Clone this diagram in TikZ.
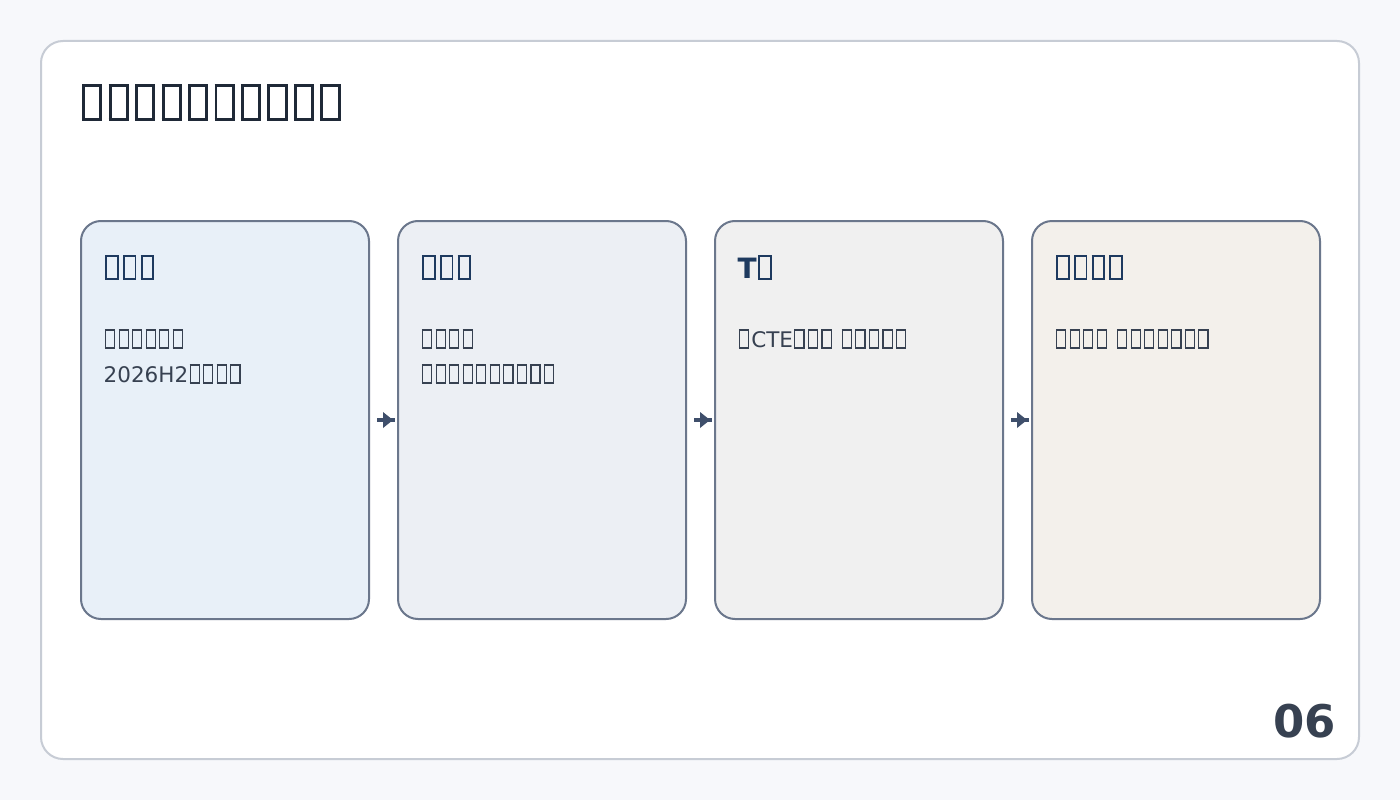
\documentclass[tikz,border=0pt]{standalone}
\usepackage{fontspec}
\setmainfont{DejaVu Sans}
\definecolor{bg}{HTML}{F7F8FB}
\definecolor{frame}{HTML}{C7CCD5}
\definecolor{cardline}{HTML}{6B778C}
\definecolor{fa}{HTML}{E8F0F8}
\definecolor{fb}{HTML}{ECEFF4}
\definecolor{fc}{HTML}{F0F0F0}
\definecolor{fd}{HTML}{F3F0EB}
\definecolor{titlec}{HTML}{1F2937}
\definecolor{headc}{HTML}{1E3A5F}
\definecolor{bodyc}{HTML}{374151}
\definecolor{arrowc}{HTML}{3F4F6B}
% missing-glyph box, as the reference prints it
\def\tfw{0.055em}
\newcommand\tf{\hbox to 0.63em{\hskip0.06em\raisebox{\dimexpr\tfw-0.07em\relax}{\setlength\fboxsep{0pt}\setlength\fboxrule{\tfw}\fbox{\rule{0pt}{\dimexpr0.89em-2\dimexpr\tfw\relax\relax}\rule{\dimexpr0.48em-2\dimexpr\tfw\relax\relax}{0pt}}}\hss}}
\begin{document}
\begin{tikzpicture}[x=1pt,y=-1pt,
  card/.style={draw=cardline,line width=2pt,rounded corners=20pt,minimum width=288pt,minimum height=398pt,inner sep=0pt},
  head/.style={anchor=base west,inner sep=0pt,font=\fontsize{28}{32}\selectfont\bfseries\def\tfw{0.07em},text=headc},
  body/.style={anchor=base west,inner sep=0pt,font=\fontsize{21.5}{24}\selectfont,text=bodyc},
  shaft/.style={draw=arrowc,line width=4pt},
  tip/.style={fill=arrowc}]
\useasboundingbox (0,0) rectangle (1400,800);
\fill[bg] (0,0) rectangle (1400,800);
\draw[frame,fill=white,line width=2pt,rounded corners=22pt] (41,41) rectangle (1359,759);
\node[anchor=base west,inner sep=0pt,font=\fontsize{42}{46}\selectfont\def\tfw{0.07em},text=titlec] (title) at (79.5,118) {\tf\tf\tf\tf\tf\tf\tf\tf\tf\tf};
\node[card,fill=fa] (c1) at (225,420) {};
\node[card,fill=fb] (c2) at (542,420) {};
\node[card,fill=fc] (c3) at (859,420) {};
\node[card,fill=fd] (c4) at (1176,420) {};
\node[head] (h1) at (103.5,278) {\tf\tf\tf};
\node[head] (h2) at (420.5,278) {\tf\tf\tf};
\node[head] (h3) at (737.5,278) {T\tf};
\node[head] (h4) at (1054.5,278) {\tf\tf\tf\tf};
\node[body] (b1a) at (103.5,347) {\tf\tf\tf\tf\tf\tf};
\node[body] (b1b) at (103.5,382) {2026H2\tf\tf\tf\tf};
\node[body] (b2a) at (420.5,347) {\tf\tf\tf\tf};
\node[body] (b2b) at (420.5,382) {\tf\tf\tf\tf\tf\tf\tf\tf\tf\tf};
\node[body] (b3a) at (737.5,347) {\tf CTE\tf\tf\tf{} \tf\tf\tf\tf\tf};
\node[body] (b4a) at (1054.5,347) {\tf\tf\tf\tf{} \tf\tf\tf\tf\tf\tf\tf};
\foreach \a/\b in {c1/c2,c2/c3,c3/c4}{
  \draw[shaft] ([xshift=7pt]\a.east) -- ([xshift=-2pt]\b.west) coordinate (e);
  \fill[tip] ([xshift=-12pt,yshift=8pt]e) -- ([xshift=-2pt]e) -- ([xshift=-12pt,yshift=-8pt]e) -- cycle;
}
\node[anchor=base east,inner sep=0pt,font=\fontsize{45}{50}\selectfont\bfseries,text=bodyc] (num) at (1336,737) {06};
\end{tikzpicture}
\end{document}
